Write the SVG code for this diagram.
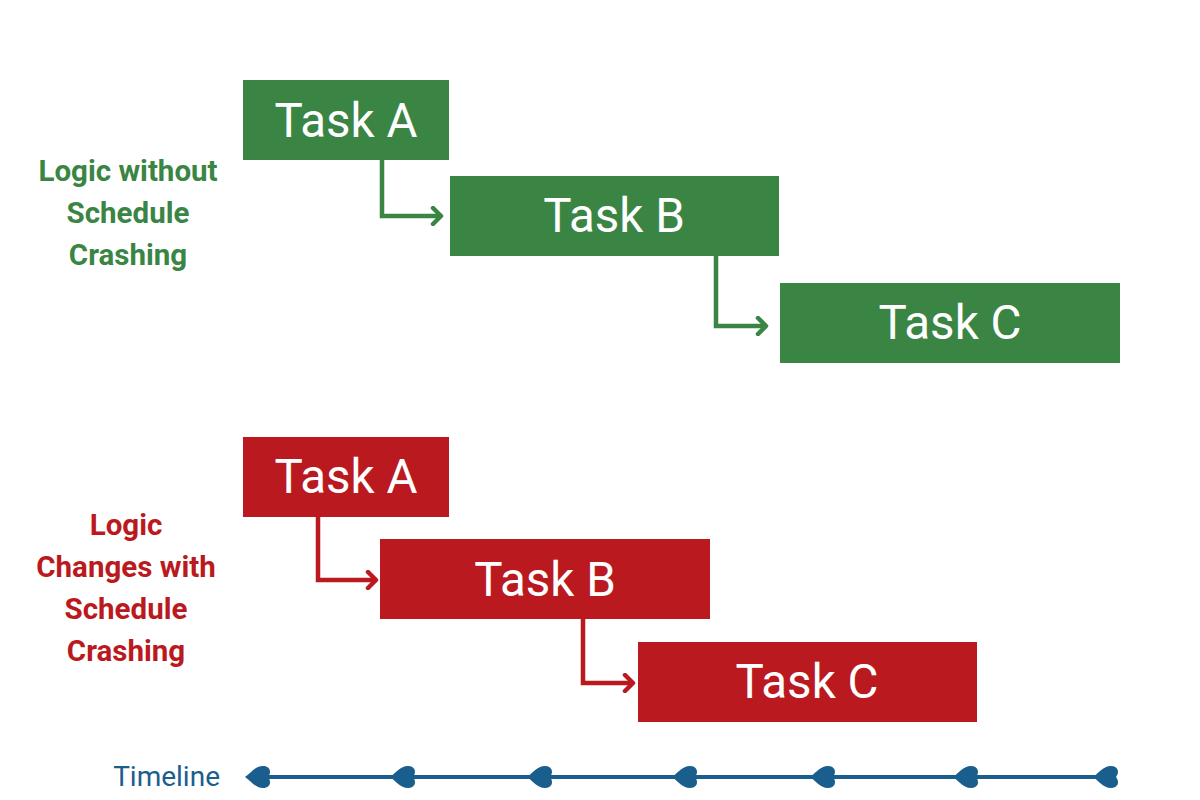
<svg xmlns="http://www.w3.org/2000/svg" width="1200" height="800" viewBox="0 0 1200 800">
  <defs>
    <style>
      .g { fill: #3a8544; }
      .r { fill: #bb1920; }
      .task { font-family: Roboto, "Liberation Sans", sans-serif; font-size: 47.5px; fill: #ffffff; text-anchor: middle; }
      .lbl { font-family: Roboto, "Liberation Sans", sans-serif; font-size: 29.5px; font-weight: bold; text-anchor: middle; }
      .cg { fill: none; stroke: #3a8544; stroke-width: 4.5; }
      .cr { fill: none; stroke: #bb1920; stroke-width: 4.5; }
      .tl { font-family: Roboto, "Liberation Sans", sans-serif; font-size: 28px; fill: #1a5e8e; text-anchor: end; }
    </style>
    <marker id="ag" markerWidth="14" markerHeight="20" refX="11" refY="10" orient="auto" markerUnits="userSpaceOnUse">
      <path d="M3,2 L11,10 L3,18" fill="none" stroke="#3a8544" stroke-width="4.5" stroke-linecap="round" stroke-linejoin="round"/>
    </marker>
    <marker id="ar" markerWidth="14" markerHeight="20" refX="11" refY="10" orient="auto" markerUnits="userSpaceOnUse">
      <path d="M3,2 L11,10 L3,18" fill="none" stroke="#bb1920" stroke-width="4.5" stroke-linecap="round" stroke-linejoin="round"/>
    </marker>
    <path id="heart" d="M0,0 C6,-4 10,-11 18,-11 C25,-11 27,-5 23,0 C27,5 25,11 18,11 C10,11 6,4 0,0 Z" fill="#1a5e8e"/>
  </defs>
  <rect width="1200" height="800" fill="#ffffff"/>

  <g id="label-top">
    <text class="lbl" x="128" y="181" fill="#3a8544">Logic without</text>
    <text class="lbl" x="128" y="223" fill="#3a8544">Schedule</text>
    <text class="lbl" x="128" y="265" fill="#3a8544">Crashing</text>
  </g>
  <g id="label-bottom">
    <text class="lbl" x="126" y="535" fill="#bb1920">Logic</text>
    <text class="lbl" x="126" y="577" fill="#bb1920">Changes with</text>
    <text class="lbl" x="126" y="619" fill="#bb1920">Schedule</text>
    <text class="lbl" x="126" y="661" fill="#bb1920">Crashing</text>
  </g>

  <g id="connectors">
    <path class="cg" d="M382,160 V216 H441" marker-end="url(#ag)"/>
    <path class="cg" d="M716,255 V326 H766" marker-end="url(#ag)"/>
    <path class="cr" d="M318,516 V580 H376" marker-end="url(#ar)"/>
    <path class="cr" d="M583,618 V683 H633" marker-end="url(#ar)"/>
  </g>

  <g id="g-task-a">
    <rect class="g" x="243" y="80" width="206" height="80"/>
    <text class="task" x="346" y="137">Task A</text>
  </g>
  <g id="g-task-b">
    <rect class="g" x="450" y="176" width="329" height="80"/>
    <text class="task" x="614" y="232">Task B</text>
  </g>
  <g id="g-task-c">
    <rect class="g" x="780" y="283" width="340" height="80"/>
    <text class="task" x="950" y="339">Task C</text>
  </g>

  <g id="r-task-a">
    <rect class="r" x="243" y="437" width="206" height="80"/>
    <text class="task" x="346" y="493">Task A</text>
  </g>
  <g id="r-task-b">
    <rect class="r" x="380" y="539" width="330" height="80"/>
    <text class="task" x="545" y="596">Task B</text>
  </g>
  <g id="r-task-c">
    <rect class="r" x="638" y="642" width="339" height="80"/>
    <text class="task" x="807" y="698">Task C</text>
  </g>

  <g id="timeline">
    <text class="tl" x="220" y="786">Timeline</text>
    <line x1="250" y1="777" x2="1105" y2="777" stroke="#1a5e8e" stroke-width="4"/>
    <use href="#heart" x="245" y="777"/>
    <use href="#heart" x="390" y="777"/>
    <use href="#heart" x="527" y="777"/>
    <use href="#heart" x="672" y="777"/>
    <use href="#heart" x="810" y="777"/>
    <use href="#heart" x="953" y="777"/>
    <use href="#heart" x="1093" y="777"/>
  </g>
</svg>
